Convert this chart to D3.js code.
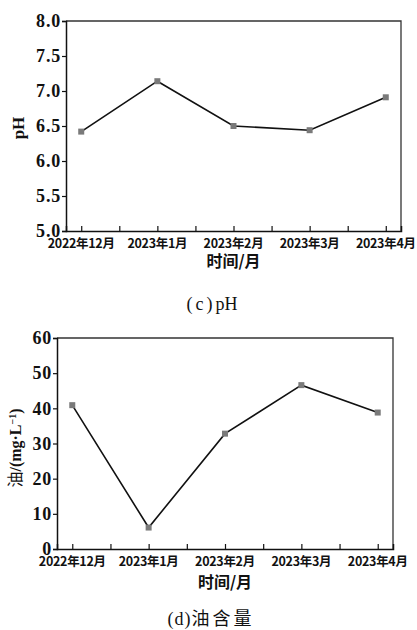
<!DOCTYPE html>
<html>
<head>
<meta charset="utf-8">
<script src="https://cdn.jsdelivr.net/npm/d3@7"></script>
<style>
  body { margin: 0; background: #fff; }
  svg text { fill: #111; }
</style>
</head>
<body>
<div id="chart"></div>
<script>
// shared categories
var months = ["2022年12月", "2023年1月", "2023年2月", "2023年3月", "2023年4月"];

// (c) pH
var phValues = [6.42, 7.14, 6.50, 6.44, 6.91];
var phTicks = [5.0, 5.5, 6.0, 6.5, 7.0, 7.5, 8.0];

// (d) oil content
var oilValues = [40.9, 6.1, 32.8, 46.6, 38.8];
var oilTicks = [0, 10, 20, 30, 40, 50, 60];

var width = 417, height = 630;
var serif = "'Liberation Serif', 'DejaVu Serif', serif";
var cjk = "'Noto Sans CJK SC', sans-serif";

var svg = d3.select("#chart").append("svg")
    .attr("width", width)
    .attr("height", height);

function panel(opts) {
    var g = svg.append("g");
    var x = d3.scaleLinear().domain([-0.2, 4.2]).range([opts.left, opts.right]);
    var y = d3.scaleLinear().domain(opts.domain).range([opts.bottom, opts.top]);

    // frame: top and right
    g.append("path")
        .attr("d", "M" + opts.left + "," + opts.top + "H" + opts.right + "V" + opts.bottom)
        .attr("fill", "none").attr("stroke", "#333").attr("stroke-width", 1.3);

    // y axis
    var ya = g.append("g")
        .attr("transform", "translate(" + opts.left + ",0)")
        .call(d3.axisLeft(y).tickValues(opts.ticks).tickFormat(opts.fmt).tickSize(4).tickPadding(1));
    ya.select(".domain").attr("stroke", "#111").attr("stroke-width", 1.5);
    ya.selectAll(".tick line").attr("stroke", "#111").attr("stroke-width", 1.2);
    ya.selectAll("text")
        .attr("font-family", serif).attr("font-weight", "bold").attr("font-size", 18)
        .attr("letter-spacing", 0.8)
        .attr("fill", "#111");

    // x axis with inward ticks (major + half steps)
    var xt = d3.range(0, 4.01, 0.5);
    var xa = g.append("g")
        .attr("transform", "translate(0," + opts.bottom + ")")
        .call(d3.axisBottom(x).tickValues(xt).tickSize(-5).tickFormat(""));
    xa.select(".domain").attr("stroke", "#111").attr("stroke-width", 1.5);
    xa.selectAll(".tick line").attr("stroke", "#111").attr("stroke-width", 1.2);

    g.selectAll(".xl").data(months).join("text")
        .attr("class", "xl")
        .attr("x", function(d, i) { return x(i); })
        .attr("y", opts.bottom + opts.xlabDy)
        .attr("text-anchor", "middle")
        .attr("font-family", cjk).attr("font-size", 12.5).attr("font-weight", "bold")
        .attr("letter-spacing", -0.3)
        .text(function(d) { return d; });

    g.append("text")
        .attr("x", (opts.left + opts.right) / 2)
        .attr("y", opts.bottom + opts.titleDy)
        .attr("text-anchor", "middle")
        .attr("font-family", cjk).attr("font-size", 16).attr("font-weight", "bold")
        .text("时间/月");

    // y title
    var yt = g.append("text")
        .attr("transform", "translate(" + opts.ylabX + "," + opts.ylabY + ") rotate(-90)")
        .attr("text-anchor", "middle")
        .attr("font-family", serif).attr("font-weight", "bold").attr("font-size", 16);
    opts.ylab(yt);

    // line + markers
    var line = d3.line().x(function(d, i) { return x(i); }).y(function(d) { return y(d); });
    g.append("path").datum(opts.values)
        .attr("d", line).attr("fill", "none").attr("stroke", "#111").attr("stroke-width", 1.6);
    g.selectAll(".pt").data(opts.values).join("rect")
        .attr("class", "pt")
        .attr("x", function(d, i) { return x(i) - 3; })
        .attr("y", function(d) { return y(d) - 3; })
        .attr("width", 6).attr("height", 6)
        .attr("fill", "#7a7a7a");

    // caption
    var cap = g.append("text")
        .attr("x", opts.capX)
        .attr("y", opts.capY)
        .attr("text-anchor", "middle")
        .attr("font-size", 18);
    opts.caption(cap);
}

panel({
    left: 66, right: 401, top: 21, bottom: 231,
    domain: [5, 8], ticks: phTicks, fmt: d3.format(".1f"),
    values: phValues,
    xlabDy: 17, titleDy: 36,
    ylabX: 24, ylabY: 128,
    ylab: function(t) { t.attr("font-size", 17).text("pH"); },
    capX: 212, capY: 310,
    caption: function(t) {
        t.attr("font-family", serif);
        t.append("tspan").attr("letter-spacing", 3).text("(c)");
        t.append("tspan").text("pH");
    }
});

panel({
    left: 57, right: 393, top: 338, bottom: 549,
    domain: [0, 60], ticks: oilTicks, fmt: d3.format("d"),
    values: oilValues,
    xlabDy: 17, titleDy: 39,
    ylabX: 21, ylabY: 448,
    ylab: function(t) {
        t.append("tspan").attr("font-family", cjk).attr("font-weight", "normal").text("油");
        t.append("tspan").text("/(mg·L");
        t.append("tspan").attr("dy", -5).attr("font-size", 10).text("−1");
        t.append("tspan").attr("dy", 5).text(")");
    },
    capX: 211, capY: 625,
    caption: function(t) {
        t.append("tspan").attr("font-family", serif).attr("letter-spacing", 1).text("(d)");
        t.append("tspan").attr("font-family", cjk).attr("letter-spacing", 3).text("油含量");
    }
});
</script>
</body>
</html>
